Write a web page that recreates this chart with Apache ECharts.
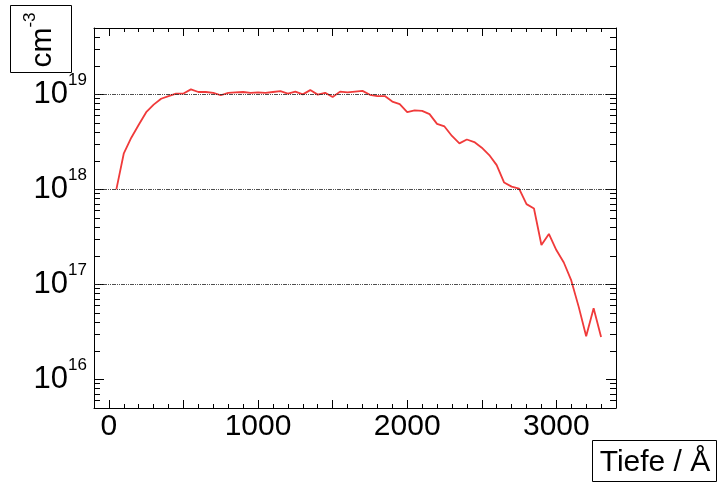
<!DOCTYPE html>
<html>
<head>
<meta charset="utf-8">
<script src="https://cdn.jsdelivr.net/npm/echarts@6/dist/echarts.min.js"></script>
<style>html,body{margin:0;padding:0;background:#fff}#c{width:719px;height:484px}</style>
</head>
<body>
<div id="c"></div>
<script>
// Depth (Angstrom)
var depth = [50,100,150,200,250,300,350,400,450,500,550,600,650,700,750,800,850,900,950,1000,
  1050,1100,1150,1200,1250,1300,1350,1400,1450,1500,1550,1600,1650,1700,1750,1800,1850,1900,1950,2000,
  2050,2100,2150,2200,2250,2300,2350,2400,2450,2500,2550,2600,2650,2700,2750,2800,2850,2900,2950,3000,
  3050,3100,3150,3200,3250,3300];
// Concentration (cm^-3)
var conc = [1.0e18,2.4e18,3.5e18,4.8e18,6.5e18,7.8e18,9.0e18,9.6e18,1.02e19,1.02e19,
  1.13e19,1.06e19,1.06e19,1.04e19,9.8e18,1.04e19,1.05e19,1.06e19,1.04e19,1.05e19,
  1.04e19,1.06e19,1.08e19,1.02e19,1.07e19,1.0e19,1.11e19,9.95e18,1.04e19,9.4e18,
  1.07e19,1.05e19,1.07e19,1.09e19,9.9e18,9.6e18,9.6e18,8.4e18,7.9e18,6.5e18,
  6.8e18,6.7e18,6.2e18,4.9e18,4.6e18,3.65e18,3.05e18,3.35e18,3.15e18,2.75e18,
  2.3e18,1.8e18,1.18e18,1.07e18,1.02e18,7.0e17,6.3e17,2.6e17,3.4e17,2.3e17,
  1.7e17,1.1e17,5.8e16,2.85e16,5.6e16,2.8e16];
// Tick labels / positions
var xLabels = [0,1000,2000,3000];
var xMajorTicks = [0,500,1000,1500,2000,2500,3000];
var xMinorTicks = [100,200,300,400,600,700,800,900,1100,1200,1300,1400,1600,1700,1800,1900,
  2100,2200,2300,2400,2600,2700,2800,2900,3100,3200,3300];
var yLabels = [1e16,1e17,1e18,1e19];
var yMinorMant = [2,3,4,5,6,7,8,9];
var yDecades = [15,16,17,18,19];
var gridLevels = [1e17,1e18,1e19];

var X_MIN = -100, X_MAX = 3400, Y_MIN = 5e15, Y_MAX = 5e19;

var yMinorTicks = [];
yDecades.forEach(function(d){ yMinorMant.forEach(function(m){
  var v = m * Math.pow(10, d);
  if (v > Y_MIN * 1.0001 && v < Y_MAX * 0.9999) yMinorTicks.push(v);
});});

var FONT = 'Liberation Sans, Arial, Helvetica, sans-serif';

function xAxisDef(pos, ticks, len, withLabels, withLine) {
  return {
    type: 'value', position: pos, min: X_MIN, max: X_MAX,
    axisLine: {show: withLine, onZero: false, lineStyle: {color: '#000', width: 1}},
    axisTick: {show: true, inside: true, length: len, customValues: ticks, lineStyle: {color: '#000', width: 1}},
    axisLabel: withLabels ? {show: true, customValues: xLabels, margin: 4, color: '#000',
      fontFamily: FONT, fontSize: 30,
      formatter: function(v){ return String(Math.round(v)); }} : {show: false},
    splitLine: {show: false}
  };
}
function yAxisDef(pos, ticks, len, withLabels, withLine) {
  return {
    type: 'log', logBase: 10, position: pos, min: Y_MIN, max: Y_MAX,
    axisLine: {show: withLine, onZero: false, lineStyle: {color: '#000', width: 1}},
    axisTick: {show: true, inside: true, length: len, customValues: ticks, lineStyle: {color: '#000', width: 1}},
    axisLabel: withLabels ? {
      show: true, customValues: yLabels, margin: 7, color: '#000',
      fontFamily: FONT, fontSize: 31,
      formatter: function(v){ return '10{s|' + Math.round(Math.log10(v)) + '}'; },
      rich: {s: {fontSize: 17, fontFamily: FONT, color: '#000', verticalAlign: 'top', padding: [0,0,29,0]}}
    } : {show: false},
    splitLine: {show: false}
  };
}

var chart = echarts.init(document.getElementById('c'), null, {renderer: 'canvas'});
chart.setOption({
  backgroundColor: '#fff',
  animation: false,
  grid: {left: 94, right: 103, top: 28, bottom: 76, containLabel: false},
  xAxis: [
    xAxisDef('bottom', xMajorTicks, 8, true, true),
    xAxisDef('bottom', xMinorTicks, 4, false, false),
    xAxisDef('top', xMajorTicks, 8, false, true),
    xAxisDef('top', xMinorTicks, 4, false, false)
  ],
  yAxis: [
    yAxisDef('left', yLabels, 10, true, true),
    yAxisDef('left', yMinorTicks, 6, false, false),
    yAxisDef('right', yLabels, 10, false, true),
    yAxisDef('right', yMinorTicks, 6, false, false)
  ],
  series: [{
    type: 'line',
    xAxisIndex: 0, yAxisIndex: 0,
    data: depth.map(function(d, i){ return [d, conc[i]]; }),
    showSymbol: false, symbol: 'none',
    lineStyle: {color: '#f03a3a', width: 1.8},
    clip: true,
    markLine: {
      silent: true, symbol: 'none', label: {show: false},
      lineStyle: {color: '#222', width: 0.8, type: [4,1,1,1,1,1]},
      data: gridLevels.map(function(v){ return {yAxis: v}; })
    }
  }],
  graphic: [
    {type: 'rect', shape: {x: 10.5, y: 5.5, width: 61, height: 67},
     style: {fill: 'none', stroke: '#000', lineWidth: 1}},
    {type: 'text', x: 43, y: 40, rotation: Math.PI / 2,
     style: {text: 'cm{s|-3}', fontFamily: FONT, fontSize: 30, fill: '#000',
       align: 'center', verticalAlign: 'middle',
       rich: {s: {fontSize: 17, fontFamily: FONT, fill: '#000', verticalAlign: 'top', padding: [0,0,26,0]}}}},
    {type: 'rect', shape: {x: 592.5, y: 440.5, width: 124, height: 41},
     style: {fill: 'none', stroke: '#000', lineWidth: 1}},
    {type: 'text', x: 655, y: 463,
     style: {text: 'Tiefe / Å', fontFamily: FONT, fontSize: 30, fill: '#000',
       align: 'center', verticalAlign: 'middle'}}
  ]
});
</script>
</body>
</html>
